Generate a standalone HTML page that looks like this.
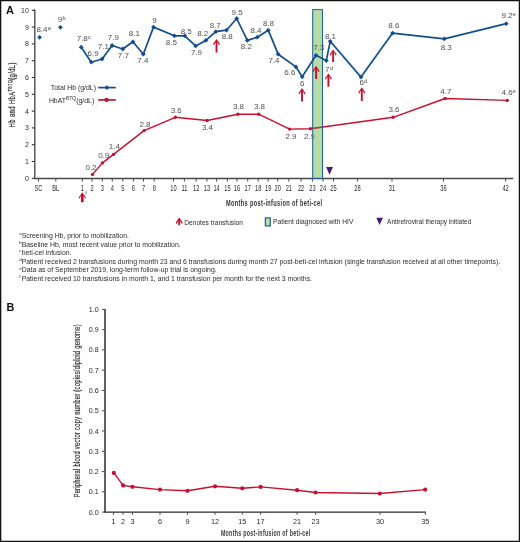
<!DOCTYPE html>
<html><head><meta charset="utf-8"><style>
html,body{margin:0;padding:0;background:#fff;}
svg{display:block;will-change:transform;font-family:"Liberation Sans",sans-serif;}
</style></head><body>
<svg width="520" height="542" viewBox="0 0 520 542">
<rect width="520" height="542" fill="#fff"/>
<line x1="34.8" y1="9.2" x2="34.8" y2="178.9" stroke="#5a5a5a" stroke-width="1.5"/>
<line x1="34" y1="178.5" x2="513.3" y2="178.5" stroke="#4a4a4a" stroke-width="1.3"/>
<line x1="31.8" y1="178.3" x2="34.6" y2="178.3" stroke="#333" stroke-width="1.1"/>
<text x="28.8" y="180.8" font-size="7" fill="#2b2b2b" text-anchor="end">0</text>
<line x1="31.8" y1="161.5" x2="34.6" y2="161.5" stroke="#333" stroke-width="1.1"/>
<text x="28.8" y="164.0" font-size="7" fill="#2b2b2b" text-anchor="end">1</text>
<line x1="31.8" y1="144.7" x2="34.6" y2="144.7" stroke="#333" stroke-width="1.1"/>
<text x="28.8" y="147.2" font-size="7" fill="#2b2b2b" text-anchor="end">2</text>
<line x1="31.8" y1="127.9" x2="34.6" y2="127.9" stroke="#333" stroke-width="1.1"/>
<text x="28.8" y="130.4" font-size="7" fill="#2b2b2b" text-anchor="end">3</text>
<line x1="31.8" y1="111.1" x2="34.6" y2="111.1" stroke="#333" stroke-width="1.1"/>
<text x="28.8" y="113.6" font-size="7" fill="#2b2b2b" text-anchor="end">4</text>
<line x1="31.8" y1="94.3" x2="34.6" y2="94.3" stroke="#333" stroke-width="1.1"/>
<text x="28.8" y="96.8" font-size="7" fill="#2b2b2b" text-anchor="end">5</text>
<line x1="31.8" y1="77.5" x2="34.6" y2="77.5" stroke="#333" stroke-width="1.1"/>
<text x="28.8" y="80.0" font-size="7" fill="#2b2b2b" text-anchor="end">6</text>
<line x1="31.8" y1="60.7" x2="34.6" y2="60.7" stroke="#333" stroke-width="1.1"/>
<text x="28.8" y="63.2" font-size="7" fill="#2b2b2b" text-anchor="end">7</text>
<line x1="31.8" y1="43.9" x2="34.6" y2="43.9" stroke="#333" stroke-width="1.1"/>
<text x="28.8" y="46.4" font-size="7" fill="#2b2b2b" text-anchor="end">8</text>
<line x1="31.8" y1="27.1" x2="34.6" y2="27.1" stroke="#333" stroke-width="1.1"/>
<text x="28.8" y="29.6" font-size="7" fill="#2b2b2b" text-anchor="end">9</text>
<line x1="31.8" y1="10.3" x2="34.6" y2="10.3" stroke="#333" stroke-width="1.1"/>
<text x="28.8" y="12.8" font-size="7" fill="#2b2b2b" text-anchor="end">10</text>
<line x1="38.5" y1="178.5" x2="38.5" y2="181.6" stroke="#4a4a4a" stroke-width="1"/>
<text transform="translate(38.5,191.1) scale(0.66,1)" font-size="8.6" fill="#2b2b2b" text-anchor="middle">SC</text>
<line x1="55.8" y1="178.5" x2="55.8" y2="181.6" stroke="#4a4a4a" stroke-width="1"/>
<text transform="translate(55.8,191.1) scale(0.66,1)" font-size="8.6" fill="#2b2b2b" text-anchor="middle">BL</text>
<line x1="82.3" y1="178.5" x2="82.3" y2="181.6" stroke="#4a4a4a" stroke-width="1"/>
<text transform="translate(82.3,191.1) scale(0.66,1)" font-size="8.6" fill="#2b2b2b" text-anchor="middle">1</text>
<line x1="92.0" y1="178.5" x2="92.0" y2="181.6" stroke="#4a4a4a" stroke-width="1"/>
<text transform="translate(92.0,191.1) scale(0.66,1)" font-size="8.6" fill="#2b2b2b" text-anchor="middle">2</text>
<line x1="102.3" y1="178.5" x2="102.3" y2="181.6" stroke="#4a4a4a" stroke-width="1"/>
<text transform="translate(102.3,191.1) scale(0.66,1)" font-size="8.6" fill="#2b2b2b" text-anchor="middle">3</text>
<line x1="112.3" y1="178.5" x2="112.3" y2="181.6" stroke="#4a4a4a" stroke-width="1"/>
<text transform="translate(112.3,191.1) scale(0.66,1)" font-size="8.6" fill="#2b2b2b" text-anchor="middle">4</text>
<line x1="122.8" y1="178.5" x2="122.8" y2="181.6" stroke="#4a4a4a" stroke-width="1"/>
<text transform="translate(122.8,191.1) scale(0.66,1)" font-size="8.6" fill="#2b2b2b" text-anchor="middle">5</text>
<line x1="133.4" y1="178.5" x2="133.4" y2="181.6" stroke="#4a4a4a" stroke-width="1"/>
<text transform="translate(133.4,191.1) scale(0.66,1)" font-size="8.6" fill="#2b2b2b" text-anchor="middle">6</text>
<line x1="143.5" y1="178.5" x2="143.5" y2="181.6" stroke="#4a4a4a" stroke-width="1"/>
<text transform="translate(143.5,191.1) scale(0.66,1)" font-size="8.6" fill="#2b2b2b" text-anchor="middle">7</text>
<line x1="154.2" y1="178.5" x2="154.2" y2="181.6" stroke="#4a4a4a" stroke-width="1"/>
<text transform="translate(154.2,191.1) scale(0.66,1)" font-size="8.6" fill="#2b2b2b" text-anchor="middle">8</text>
<line x1="173.5" y1="178.5" x2="173.5" y2="181.6" stroke="#4a4a4a" stroke-width="1"/>
<text transform="translate(173.5,191.1) scale(0.66,1)" font-size="8.6" fill="#2b2b2b" text-anchor="middle">10</text>
<line x1="184.4" y1="178.5" x2="184.4" y2="181.6" stroke="#4a4a4a" stroke-width="1"/>
<text transform="translate(184.4,191.1) scale(0.66,1)" font-size="8.6" fill="#2b2b2b" text-anchor="middle">11</text>
<line x1="196.2" y1="178.5" x2="196.2" y2="181.6" stroke="#4a4a4a" stroke-width="1"/>
<text transform="translate(196.2,191.1) scale(0.66,1)" font-size="8.6" fill="#2b2b2b" text-anchor="middle">12</text>
<line x1="206.9" y1="178.5" x2="206.9" y2="181.6" stroke="#4a4a4a" stroke-width="1"/>
<text transform="translate(206.9,191.1) scale(0.66,1)" font-size="8.6" fill="#2b2b2b" text-anchor="middle">13</text>
<line x1="216.6" y1="178.5" x2="216.6" y2="181.6" stroke="#4a4a4a" stroke-width="1"/>
<text transform="translate(216.6,191.1) scale(0.66,1)" font-size="8.6" fill="#2b2b2b" text-anchor="middle">14</text>
<line x1="227.4" y1="178.5" x2="227.4" y2="181.6" stroke="#4a4a4a" stroke-width="1"/>
<text transform="translate(227.4,191.1) scale(0.66,1)" font-size="8.6" fill="#2b2b2b" text-anchor="middle">15</text>
<line x1="236.9" y1="178.5" x2="236.9" y2="181.6" stroke="#4a4a4a" stroke-width="1"/>
<text transform="translate(236.9,191.1) scale(0.66,1)" font-size="8.6" fill="#2b2b2b" text-anchor="middle">16</text>
<line x1="247.7" y1="178.5" x2="247.7" y2="181.6" stroke="#4a4a4a" stroke-width="1"/>
<text transform="translate(247.7,191.1) scale(0.66,1)" font-size="8.6" fill="#2b2b2b" text-anchor="middle">17</text>
<line x1="258.2" y1="178.5" x2="258.2" y2="181.6" stroke="#4a4a4a" stroke-width="1"/>
<text transform="translate(258.2,191.1) scale(0.66,1)" font-size="8.6" fill="#2b2b2b" text-anchor="middle">18</text>
<line x1="268.2" y1="178.5" x2="268.2" y2="181.6" stroke="#4a4a4a" stroke-width="1"/>
<text transform="translate(268.2,191.1) scale(0.66,1)" font-size="8.6" fill="#2b2b2b" text-anchor="middle">19</text>
<line x1="277.7" y1="178.5" x2="277.7" y2="181.6" stroke="#4a4a4a" stroke-width="1"/>
<text transform="translate(277.7,191.1) scale(0.66,1)" font-size="8.6" fill="#2b2b2b" text-anchor="middle">20</text>
<line x1="288.8" y1="178.5" x2="288.8" y2="181.6" stroke="#4a4a4a" stroke-width="1"/>
<text transform="translate(288.8,191.1) scale(0.66,1)" font-size="8.6" fill="#2b2b2b" text-anchor="middle">21</text>
<line x1="301.1" y1="178.5" x2="301.1" y2="181.6" stroke="#4a4a4a" stroke-width="1"/>
<text transform="translate(301.1,191.1) scale(0.66,1)" font-size="8.6" fill="#2b2b2b" text-anchor="middle">22</text>
<line x1="312.4" y1="178.5" x2="312.4" y2="181.6" stroke="#4a4a4a" stroke-width="1"/>
<text transform="translate(312.4,191.1) scale(0.66,1)" font-size="8.6" fill="#2b2b2b" text-anchor="middle">23</text>
<line x1="323.0" y1="178.5" x2="323.0" y2="181.6" stroke="#4a4a4a" stroke-width="1"/>
<text transform="translate(323.0,191.1) scale(0.66,1)" font-size="8.6" fill="#2b2b2b" text-anchor="middle">24</text>
<line x1="333.5" y1="178.5" x2="333.5" y2="181.6" stroke="#4a4a4a" stroke-width="1"/>
<text transform="translate(333.5,191.1) scale(0.66,1)" font-size="8.6" fill="#2b2b2b" text-anchor="middle">25</text>
<line x1="357.4" y1="178.5" x2="357.4" y2="181.6" stroke="#4a4a4a" stroke-width="1"/>
<text transform="translate(357.4,191.1) scale(0.66,1)" font-size="8.6" fill="#2b2b2b" text-anchor="middle">28</text>
<line x1="392.0" y1="178.5" x2="392.0" y2="181.6" stroke="#4a4a4a" stroke-width="1"/>
<text transform="translate(392.0,191.1) scale(0.66,1)" font-size="8.6" fill="#2b2b2b" text-anchor="middle">31</text>
<line x1="443.5" y1="178.5" x2="443.5" y2="181.6" stroke="#4a4a4a" stroke-width="1"/>
<text transform="translate(443.5,191.1) scale(0.66,1)" font-size="8.6" fill="#2b2b2b" text-anchor="middle">36</text>
<line x1="505.6" y1="178.5" x2="505.6" y2="181.6" stroke="#4a4a4a" stroke-width="1"/>
<text transform="translate(505.6,191.1) scale(0.66,1)" font-size="8.6" fill="#2b2b2b" text-anchor="middle">42</text>
<polyline points="92.5,174.4 102.5,162.9 113.5,154.4 144.1,130.6 175.3,117.3 207.1,120.5 237.9,114.2 258.7,114.2 289.6,129.1 310.4,128.8 393.1,117.3 445.1,98.5 507.3,100.4" fill="none" stroke="#c8102e" stroke-width="1.4" stroke-linejoin="round"/>
<circle cx="92.5" cy="174.4" r="1.7" fill="#c8102e"/>
<circle cx="102.5" cy="162.9" r="1.7" fill="#c8102e"/>
<circle cx="113.5" cy="154.4" r="1.7" fill="#c8102e"/>
<circle cx="144.1" cy="130.6" r="1.7" fill="#c8102e"/>
<circle cx="175.3" cy="117.3" r="1.7" fill="#c8102e"/>
<circle cx="207.1" cy="120.5" r="1.7" fill="#c8102e"/>
<circle cx="237.9" cy="114.2" r="1.7" fill="#c8102e"/>
<circle cx="258.7" cy="114.2" r="1.7" fill="#c8102e"/>
<circle cx="289.6" cy="129.1" r="1.7" fill="#c8102e"/>
<circle cx="310.4" cy="128.8" r="1.7" fill="#c8102e"/>
<circle cx="393.1" cy="117.3" r="1.7" fill="#c8102e"/>
<circle cx="445.1" cy="98.5" r="1.7" fill="#c8102e"/>
<circle cx="507.3" cy="100.4" r="1.7" fill="#c8102e"/>
<text x="91" y="169.7" font-size="8.0" fill="#4f4f4f" text-anchor="middle">0.2</text>
<text x="103.7" y="157.8" font-size="8.0" fill="#4f4f4f" text-anchor="middle">0.9</text>
<text x="114.4" y="149.1" font-size="8.0" fill="#4f4f4f" text-anchor="middle">1.4</text>
<text x="145" y="126.8" font-size="8.0" fill="#4f4f4f" text-anchor="middle">2.8</text>
<text x="176.2" y="113.0" font-size="8.0" fill="#4f4f4f" text-anchor="middle">3.6</text>
<text x="207.5" y="130.1" font-size="8.0" fill="#4f4f4f" text-anchor="middle">3.4</text>
<text x="238.5" y="109.0" font-size="8.0" fill="#4f4f4f" text-anchor="middle">3.8</text>
<text x="259.5" y="109.0" font-size="8.0" fill="#4f4f4f" text-anchor="middle">3.8</text>
<text x="291" y="139.0" font-size="8.0" fill="#4f4f4f" text-anchor="middle">2.9</text>
<text x="309.6" y="138.9" font-size="8.0" fill="#4f4f4f" text-anchor="middle">2.9</text>
<text x="394" y="112.0" font-size="8.0" fill="#4f4f4f" text-anchor="middle">3.6</text>
<text x="445.9" y="93.7" font-size="8.0" fill="#4f4f4f" text-anchor="middle">4.7</text>
<text x="501.5" y="95.4" font-size="8.0" fill="#4f4f4f">4.6<tspan font-size="5.6" dx="0.2" dy="-2.0">e</tspan></text>
<rect x="312.7" y="9.6" width="9.8" height="168.8" fill="#97ce83" fill-opacity="0.7"/>
<clipPath id="barclip"><rect x="312.7" y="9.6" width="9.8" height="168.8"/></clipPath>
<polyline clip-path="url(#barclip)" points="92.5,174.4 102.5,162.9 113.5,154.4 144.1,130.6 175.3,117.3 207.1,120.5 237.9,114.2 258.7,114.2 289.6,129.1 310.4,128.8 393.1,117.3 445.1,98.5 507.3,100.4" fill="none" stroke="#c8102e" stroke-opacity="0.8" stroke-width="1.4"/>
<rect x="312.7" y="9.6" width="9.8" height="168.8" fill="none" stroke="#1f5e9a" stroke-width="1"/>
<polyline points="81.2,47.2 91.3,62.2 102.1,59.0 112.1,45.5 122.8,49.0 132.9,41.8 143.3,54.2 153.5,27.1 174.4,35.8 184.8,35.8 195.6,45.9 205.8,40.4 215.8,31.7 226.4,30.2 236.7,18.5 247.3,40.4 257.3,37.2 268.2,30.2 278.2,54.2 295.9,66.9 302.2,76.8 316.0,55.3 326.3,60.6 330.2,41.3 361.0,77.1 392.6,33.1 444.3,38.8 506.2,23.7" fill="none" stroke="#134e8c" stroke-width="1.7" stroke-linejoin="round"/>
<path d="M81.2 44.800000000000004L83.60000000000001 47.2L81.2 49.6L78.8 47.2Z" fill="#134e8c"/>
<path d="M91.3 59.800000000000004L93.7 62.2L91.3 64.60000000000001L88.89999999999999 62.2Z" fill="#134e8c"/>
<path d="M102.1 56.6L104.5 59.0L102.1 61.4L99.69999999999999 59.0Z" fill="#134e8c"/>
<path d="M112.1 43.1L114.5 45.5L112.1 47.9L109.69999999999999 45.5Z" fill="#134e8c"/>
<path d="M122.8 46.6L125.2 49.0L122.8 51.4L120.39999999999999 49.0Z" fill="#134e8c"/>
<path d="M132.9 39.4L135.3 41.8L132.9 44.199999999999996L130.5 41.8Z" fill="#134e8c"/>
<path d="M143.3 51.800000000000004L145.70000000000002 54.2L143.3 56.6L140.9 54.2Z" fill="#134e8c"/>
<path d="M153.5 24.700000000000003L155.9 27.1L153.5 29.5L151.1 27.1Z" fill="#134e8c"/>
<path d="M174.4 33.4L176.8 35.8L174.4 38.199999999999996L172.0 35.8Z" fill="#134e8c"/>
<path d="M184.8 33.4L187.20000000000002 35.8L184.8 38.199999999999996L182.4 35.8Z" fill="#134e8c"/>
<path d="M195.6 43.5L198.0 45.9L195.6 48.3L193.2 45.9Z" fill="#134e8c"/>
<path d="M205.8 38.0L208.20000000000002 40.4L205.8 42.8L203.4 40.4Z" fill="#134e8c"/>
<path d="M215.8 29.3L218.20000000000002 31.7L215.8 34.1L213.4 31.7Z" fill="#134e8c"/>
<path d="M226.4 27.8L228.8 30.2L226.4 32.6L224.0 30.2Z" fill="#134e8c"/>
<path d="M236.7 16.1L239.1 18.5L236.7 20.9L234.29999999999998 18.5Z" fill="#134e8c"/>
<path d="M247.3 38.0L249.70000000000002 40.4L247.3 42.8L244.9 40.4Z" fill="#134e8c"/>
<path d="M257.3 34.800000000000004L259.7 37.2L257.3 39.6L254.9 37.2Z" fill="#134e8c"/>
<path d="M268.2 27.8L270.59999999999997 30.2L268.2 32.6L265.8 30.2Z" fill="#134e8c"/>
<path d="M278.2 51.800000000000004L280.59999999999997 54.2L278.2 56.6L275.8 54.2Z" fill="#134e8c"/>
<path d="M295.9 64.5L298.29999999999995 66.9L295.9 69.30000000000001L293.5 66.9Z" fill="#134e8c"/>
<path d="M302.2 74.39999999999999L304.59999999999997 76.8L302.2 79.2L299.8 76.8Z" fill="#134e8c"/>
<path d="M316.0 52.9L318.4 55.3L316.0 57.699999999999996L313.6 55.3Z" fill="#134e8c"/>
<path d="M326.3 58.2L328.7 60.6L326.3 63.0L323.90000000000003 60.6Z" fill="#134e8c"/>
<path d="M330.2 38.9L332.59999999999997 41.3L330.2 43.699999999999996L327.8 41.3Z" fill="#134e8c"/>
<path d="M361.0 74.69999999999999L363.4 77.1L361.0 79.5L358.6 77.1Z" fill="#134e8c"/>
<path d="M392.6 30.700000000000003L395.0 33.1L392.6 35.5L390.20000000000005 33.1Z" fill="#134e8c"/>
<path d="M444.3 36.4L446.7 38.8L444.3 41.199999999999996L441.90000000000003 38.8Z" fill="#134e8c"/>
<path d="M506.2 21.3L508.59999999999997 23.7L506.2 26.099999999999998L503.8 23.7Z" fill="#134e8c"/>
<path d="M39.6 34.9L42.0 37.3L39.6 39.699999999999996L37.2 37.3Z" fill="#134e8c"/>
<path d="M60.4 24.900000000000002L62.8 27.3L60.4 29.7L58.0 27.3Z" fill="#134e8c"/>
<text x="93.1" y="56.0" font-size="8.0" fill="#4f4f4f" text-anchor="middle">6.9</text>
<text x="103.4" y="49.0" font-size="8.0" fill="#4f4f4f" text-anchor="middle">7.1</text>
<text x="113.3" y="40.2" font-size="8.0" fill="#4f4f4f" text-anchor="middle">7.9</text>
<text x="123.3" y="57.9" font-size="8.0" fill="#4f4f4f" text-anchor="middle">7.7</text>
<text x="134.4" y="35.6" font-size="8.0" fill="#4f4f4f" text-anchor="middle">8.1</text>
<text x="142.8" y="63.1" font-size="8.0" fill="#4f4f4f" text-anchor="middle">7.4</text>
<text x="154.6" y="22.6" font-size="8.0" fill="#4f4f4f" text-anchor="middle">9</text>
<text x="171.3" y="44.8" font-size="8.0" fill="#4f4f4f" text-anchor="middle">8.5</text>
<text x="186.2" y="33.9" font-size="8.0" fill="#4f4f4f" text-anchor="middle">8.5</text>
<text x="196.5" y="54.6" font-size="8.0" fill="#4f4f4f" text-anchor="middle">7.9</text>
<text x="202.7" y="35.6" font-size="8.0" fill="#4f4f4f" text-anchor="middle">8.2</text>
<text x="215.2" y="28.1" font-size="8.0" fill="#4f4f4f" text-anchor="middle">8.7</text>
<text x="227.2" y="38.5" font-size="8.0" fill="#4f4f4f" text-anchor="middle">8.8</text>
<text x="237.1" y="14.8" font-size="8.0" fill="#4f4f4f" text-anchor="middle">9.5</text>
<text x="246.3" y="48.9" font-size="8.0" fill="#4f4f4f" text-anchor="middle">8.2</text>
<text x="256" y="32.7" font-size="8.0" fill="#4f4f4f" text-anchor="middle">8.4</text>
<text x="268.5" y="25.6" font-size="8.0" fill="#4f4f4f" text-anchor="middle">8.8</text>
<text x="274" y="63.3" font-size="8.0" fill="#4f4f4f" text-anchor="middle">7.4</text>
<text x="289.8" y="74.8" font-size="8.0" fill="#4f4f4f" text-anchor="middle">6.6</text>
<text x="302.2" y="85.6" font-size="8.0" fill="#4f4f4f" text-anchor="middle">6</text>
<text x="318.7" y="50.2" font-size="8.0" fill="#4f4f4f" text-anchor="middle">7.3</text>
<text x="330.5" y="38.6" font-size="8.0" fill="#4f4f4f" text-anchor="middle">8.1</text>
<text x="393.8" y="28.1" font-size="8.0" fill="#4f4f4f" text-anchor="middle">8.6</text>
<text x="446.2" y="49.9" font-size="8.0" fill="#4f4f4f" text-anchor="middle">8.3</text>
<text x="36.400000000000006" y="32.0" font-size="8.0" fill="#4f4f4f">8.4<tspan font-size="5.6" dx="0.2" dy="-2.0">a</tspan></text>
<text x="57.800000000000004" y="21.6" font-size="8.0" fill="#4f4f4f">9<tspan font-size="5.6" dx="0.2" dy="-2.0">b</tspan></text>
<text x="76.7" y="41.3" font-size="8.0" fill="#4f4f4f">7.8<tspan font-size="5.6" dx="0.2" dy="-2.0">c</tspan></text>
<text x="325.0" y="72.0" font-size="8.0" fill="#4f4f4f">7<tspan font-size="5.6" dx="0.2" dy="-2.0">d</tspan></text>
<text x="359.4" y="84.89999999999999" font-size="8.0" fill="#4f4f4f">6<tspan font-size="5.6" dx="0.2" dy="-2.0">d</tspan></text>
<text x="501.5" y="17.8" font-size="8.0" fill="#4f4f4f">9.2<tspan font-size="5.6" dx="0.2" dy="-2.0">e</tspan></text>
<path d="M216.50 38.90 L220.00 44.00 L219.10 45.30 L217.45 42.10 L217.45 52.50 L215.55 52.50 L215.55 42.10 L213.90 45.30 L213.00 44.00Z" fill="#c8102e"/>
<path d="M302.00 88.10 L305.50 93.20 L304.60 94.50 L302.95 91.30 L302.95 101.50 L301.05 101.50 L301.05 91.30 L299.40 94.50 L298.50 93.20Z" fill="#c8102e"/>
<path d="M316.10 65.80 L319.60 70.90 L318.70 72.20 L317.05 69.00 L317.05 79.00 L315.15 79.00 L315.15 69.00 L313.50 72.20 L312.60 70.90Z" fill="#c8102e"/>
<path d="M328.40 73.40 L331.90 78.50 L331.00 79.80 L329.35 76.60 L329.35 86.80 L327.45 86.80 L327.45 76.60 L325.80 79.80 L324.90 78.50Z" fill="#c8102e"/>
<path d="M333.10 49.40 L336.60 54.50 L335.70 55.80 L334.05 52.60 L334.05 62.10 L332.15 62.10 L332.15 52.60 L330.50 55.80 L329.60 54.50Z" fill="#c8102e"/>
<path d="M361.80 87.30 L365.30 92.40 L364.40 93.70 L362.75 90.50 L362.75 100.90 L360.85 100.90 L360.85 90.50 L359.20 93.70 L358.30 92.40Z" fill="#c8102e"/>
<path d="M82.30 192.30 L85.90 197.40 L85.00 198.70 L83.65 195.50 L83.65 202.30 L80.95 202.30 L80.95 195.50 L79.60 198.70 L78.70 197.40Z" fill="#c8102e"/>
<path d="M326.1 167.1L333 167.1L329.5 174.7Z" fill="#4a1870"/>
<text x="50.8" y="90.4" font-size="6.9" fill="#2b2b2b">Total Hb (g/dL)</text>
<line x1="98.2" y1="87.6" x2="115.8" y2="87.6" stroke="#134e8c" stroke-width="1.7"/>
<path d="M106.9 85.19999999999999L109.30000000000001 87.6L106.9 90.0L104.5 87.6Z" fill="#134e8c"/>
<text x="48.9" y="102.7" font-size="6.9" fill="#2b2b2b">HbAT<tspan font-size="5.4" dy="-2.9">87Q</tspan><tspan dy="3">(g/dL)</tspan></text>
<line x1="98.2" y1="99.9" x2="115.8" y2="99.9" stroke="#c8102e" stroke-width="1.7"/>
<circle cx="106.5" cy="99.9" r="2.1" fill="#c8102e"/>
<text transform="translate(14.9,127.4) rotate(-90) scale(0.70,1)" font-size="8.4" letter-spacing="0.55" fill="#2b2b2b" stroke="#2b2b2b" stroke-width="0.2">Hb and HbA<tspan font-size="5.8" dy="-3.2">T87Q</tspan><tspan dy="3.2">(g/dL)</tspan></text>
<text transform="translate(225.9,205.5) scale(0.64,1)" font-size="8.8" font-weight="bold" letter-spacing="0.55" fill="#333">Months post-infusion of beti-cel</text>
<text x="85.3" y="194.6" font-size="5.6" fill="#4f4f4f">f</text>
<path d="M179.20 217.50 L182.70 222.60 L181.80 223.90 L180.15 220.70 L180.15 225.20 L178.25 225.20 L178.25 220.70 L176.60 223.90 L175.70 222.60Z" fill="#c8102e"/>
<text x="184.3" y="224.7" font-size="6.6" fill="#2b2b2b">Denotes transfusion</text>
<rect x="265.4" y="217.9" width="4.8" height="8.0" fill="#c0e6a8" stroke="#1f5e9a" stroke-width="1.25"/>
<text x="273.1" y="224.4" font-size="6.7" fill="#2b2b2b">Patient diagnosed with HIV</text>
<path d="M376.3 217.8L382.9 217.8L379.6 225Z" fill="#4a1870"/>
<text x="387.1" y="224.2" font-size="6.5" fill="#2b2b2b">Antiretroviral therapy initiated</text>
<text x="19.3" y="235.0" font-size="4.4" fill="#2b2b2b">a</text>
<text x="21.7" y="237.8" font-size="6.9" fill="#2b2b2b">Screening Hb, prior to mobilization.</text>
<text x="19.3" y="243.7" font-size="4.4" fill="#2b2b2b">b</text>
<text x="21.7" y="246.5" font-size="6.9" fill="#2b2b2b">Baseline Hb, most recent value prior to mobilization.</text>
<text x="19.3" y="252.29999999999998" font-size="4.4" fill="#2b2b2b">c</text>
<text x="21.7" y="255.1" font-size="6.9" fill="#2b2b2b">beti-cel infusion.</text>
<text x="19.3" y="260.7" font-size="4.4" fill="#2b2b2b">d</text>
<text x="21.7" y="263.5" font-size="6.9" fill="#2b2b2b">Patient received 2 transfusions during month 23 and 6 transfusions during month 27 post-beti-cel infusion (single transfusion received at all other timepoints).</text>
<text x="19.3" y="269.59999999999997" font-size="4.4" fill="#2b2b2b">e</text>
<text x="21.7" y="272.4" font-size="6.9" fill="#2b2b2b">Data as of September 2019, long-term follow-up trial is ongoing.</text>
<text x="19.3" y="278.0" font-size="4.4" fill="#2b2b2b">f</text>
<text x="21.7" y="280.8" font-size="6.9" fill="#2b2b2b">Patient received 10 transfusions in month 1, and 1 transfusion per month for the next 3 months.</text>
<text x="6.0" y="14.1" font-size="11" font-weight="bold" fill="#111">A</text>
<text x="6.4" y="310.8" font-size="10.8" font-weight="bold" fill="#111">B</text>
<line x1="105.0" y1="309.0" x2="105.0" y2="512.6" stroke="#5a5a5a" stroke-width="1.9"/>
<line x1="104" y1="512.1" x2="425.8" y2="512.1" stroke="#2a2a2a" stroke-width="1.2"/>
<line x1="101.9" y1="512.1" x2="104.6" y2="512.1" stroke="#4a4a4a" stroke-width="1"/>
<text x="98.7" y="514.6" font-size="7.1" fill="#2b2b2b" text-anchor="end">0.0</text>
<line x1="101.9" y1="491.8" x2="104.6" y2="491.8" stroke="#4a4a4a" stroke-width="1"/>
<text x="98.7" y="494.3" font-size="7.1" fill="#2b2b2b" text-anchor="end">0.1</text>
<line x1="101.9" y1="471.6" x2="104.6" y2="471.6" stroke="#4a4a4a" stroke-width="1"/>
<text x="98.7" y="474.1" font-size="7.1" fill="#2b2b2b" text-anchor="end">0.2</text>
<line x1="101.9" y1="451.3" x2="104.6" y2="451.3" stroke="#4a4a4a" stroke-width="1"/>
<text x="98.7" y="453.8" font-size="7.1" fill="#2b2b2b" text-anchor="end">0.3</text>
<line x1="101.9" y1="431.0" x2="104.6" y2="431.0" stroke="#4a4a4a" stroke-width="1"/>
<text x="98.7" y="433.5" font-size="7.1" fill="#2b2b2b" text-anchor="end">0.4</text>
<line x1="101.9" y1="410.8" x2="104.6" y2="410.8" stroke="#4a4a4a" stroke-width="1"/>
<text x="98.7" y="413.2" font-size="7.1" fill="#2b2b2b" text-anchor="end">0.5</text>
<line x1="101.9" y1="390.5" x2="104.6" y2="390.5" stroke="#4a4a4a" stroke-width="1"/>
<text x="98.7" y="393.0" font-size="7.1" fill="#2b2b2b" text-anchor="end">0.6</text>
<line x1="101.9" y1="370.2" x2="104.6" y2="370.2" stroke="#4a4a4a" stroke-width="1"/>
<text x="98.7" y="372.7" font-size="7.1" fill="#2b2b2b" text-anchor="end">0.7</text>
<line x1="101.9" y1="349.9" x2="104.6" y2="349.9" stroke="#4a4a4a" stroke-width="1"/>
<text x="98.7" y="352.4" font-size="7.1" fill="#2b2b2b" text-anchor="end">0.8</text>
<line x1="101.9" y1="329.7" x2="104.6" y2="329.7" stroke="#4a4a4a" stroke-width="1"/>
<text x="98.7" y="332.2" font-size="7.1" fill="#2b2b2b" text-anchor="end">0.9</text>
<line x1="101.9" y1="309.4" x2="104.6" y2="309.4" stroke="#4a4a4a" stroke-width="1"/>
<text x="98.7" y="311.9" font-size="7.1" fill="#2b2b2b" text-anchor="end">1.0</text>
<line x1="113.5" y1="512.1" x2="113.5" y2="514.8" stroke="#4a4a4a" stroke-width="1"/>
<text x="113.5" y="523.8" font-size="7.3" fill="#2b2b2b" text-anchor="middle">1</text>
<line x1="123.0" y1="512.1" x2="123.0" y2="514.8" stroke="#4a4a4a" stroke-width="1"/>
<text x="123.0" y="523.8" font-size="7.3" fill="#2b2b2b" text-anchor="middle">2</text>
<line x1="132.5" y1="512.1" x2="132.5" y2="514.8" stroke="#4a4a4a" stroke-width="1"/>
<text x="132.5" y="523.8" font-size="7.3" fill="#2b2b2b" text-anchor="middle">3</text>
<line x1="160.0" y1="512.1" x2="160.0" y2="514.8" stroke="#4a4a4a" stroke-width="1"/>
<text x="160.0" y="523.8" font-size="7.3" fill="#2b2b2b" text-anchor="middle">6</text>
<line x1="187.5" y1="512.1" x2="187.5" y2="514.8" stroke="#4a4a4a" stroke-width="1"/>
<text x="187.5" y="523.8" font-size="7.3" fill="#2b2b2b" text-anchor="middle">9</text>
<line x1="215.0" y1="512.1" x2="215.0" y2="514.8" stroke="#4a4a4a" stroke-width="1"/>
<text x="215.0" y="523.8" font-size="7.3" fill="#2b2b2b" text-anchor="middle">12</text>
<line x1="242.3" y1="512.1" x2="242.3" y2="514.8" stroke="#4a4a4a" stroke-width="1"/>
<text x="242.3" y="523.8" font-size="7.3" fill="#2b2b2b" text-anchor="middle">15</text>
<line x1="260.6" y1="512.1" x2="260.6" y2="514.8" stroke="#4a4a4a" stroke-width="1"/>
<text x="260.6" y="523.8" font-size="7.3" fill="#2b2b2b" text-anchor="middle">17</text>
<line x1="297.1" y1="512.1" x2="297.1" y2="514.8" stroke="#4a4a4a" stroke-width="1"/>
<text x="297.1" y="523.8" font-size="7.3" fill="#2b2b2b" text-anchor="middle">21</text>
<line x1="315.6" y1="512.1" x2="315.6" y2="514.8" stroke="#4a4a4a" stroke-width="1"/>
<text x="315.6" y="523.8" font-size="7.3" fill="#2b2b2b" text-anchor="middle">23</text>
<line x1="380.1" y1="512.1" x2="380.1" y2="514.8" stroke="#4a4a4a" stroke-width="1"/>
<text x="380.1" y="523.8" font-size="7.3" fill="#2b2b2b" text-anchor="middle">30</text>
<line x1="425.3" y1="512.1" x2="425.3" y2="514.8" stroke="#4a4a4a" stroke-width="1"/>
<text x="425.3" y="523.8" font-size="7.3" fill="#2b2b2b" text-anchor="middle">35</text>
<polyline points="113.8,472.9 123.1,485.4 132.5,486.8 160,489.6 187.5,490.8 215,486.3 242.3,488.3 260.6,486.9 297.1,490.2 315.6,492.5 379.8,493.5 425.2,489.6" fill="none" stroke="#c8102e" stroke-width="1.4" stroke-linejoin="round"/>
<circle cx="113.8" cy="472.9" r="2.1" fill="#c8102e"/>
<circle cx="123.1" cy="485.4" r="2.1" fill="#c8102e"/>
<circle cx="132.5" cy="486.8" r="2.1" fill="#c8102e"/>
<circle cx="160" cy="489.6" r="2.1" fill="#c8102e"/>
<circle cx="187.5" cy="490.8" r="2.1" fill="#c8102e"/>
<circle cx="215" cy="486.3" r="2.1" fill="#c8102e"/>
<circle cx="242.3" cy="488.3" r="2.1" fill="#c8102e"/>
<circle cx="260.6" cy="486.9" r="2.1" fill="#c8102e"/>
<circle cx="297.1" cy="490.2" r="2.1" fill="#c8102e"/>
<circle cx="315.6" cy="492.5" r="2.1" fill="#c8102e"/>
<circle cx="379.8" cy="493.5" r="2.1" fill="#c8102e"/>
<circle cx="425.2" cy="489.6" r="2.1" fill="#c8102e"/>
<text transform="translate(79.7,497.5) rotate(-90) scale(0.66,1)" font-size="8.8" letter-spacing="0.4" fill="#2b2b2b" stroke="#2b2b2b" stroke-width="0.15">Peripheral blood vector copy number (copies/diploid genome)</text>
<text transform="translate(220.9,535.6) scale(0.6,1)" font-size="8.8" font-weight="bold" letter-spacing="0.5" fill="#3a3a3a">Months post-infusion of beti-cel</text>
<rect x="0.65" y="0.6" width="518.75" height="540.8" fill="none" stroke="#111" stroke-width="1.3"/>
</svg>
</body></html>
